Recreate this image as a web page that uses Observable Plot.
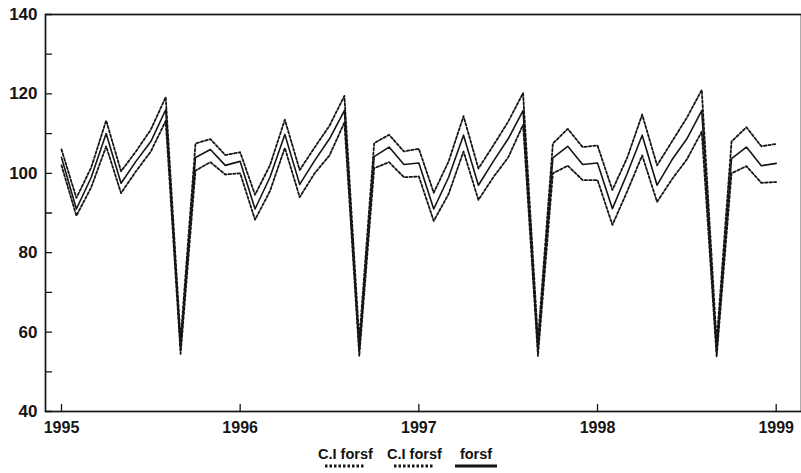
<!DOCTYPE html>
<html>
<head>
<meta charset="utf-8">
<script src="https://cdn.jsdelivr.net/npm/d3@7"></script>
<script src="https://cdn.jsdelivr.net/npm/@observablehq/plot@0.6"></script>
<style>
  html, body { margin: 0; padding: 0; background: #fff; }
  #wrap { position: relative; width: 801px; height: 473px; font-family: "Liberation Sans", Arial, sans-serif; }
  #legend { position: absolute; left: 0; top: 440px; width: 801px; height: 33px; }
  .item { position: absolute; top: 6px; display: flex; flex-direction: column; align-items: center; }
  .item span { font-size: 14.5px; font-weight: bold; color: #111; line-height: 16px; }
  .item svg { display: block; margin-top: 2px; }
</style>
</head>
<body>
<div id="wrap"><div id="chart"></div><div id="legend"></div></div>
<script>
// Monthly values, Jan 1995 .. Jan 1999 (49 months)
const startYear = 1995;
const forsf = [
  104, 91, 99, 110, 97.5, 103, 108, 116, 56, 104, 106, 102,
  103, 91, 99, 109.8, 97.2, 103.2, 108.7, 115.8, 55.5, 104.2, 106.6, 102.2,
  102.6, 91, 99, 109.6, 97, 103, 108.7, 115.8, 55.5, 103.9, 106.8, 102.2,
  102.6, 91.1, 100, 109.6, 97, 103.4, 108.7, 115.8, 55, 103.7, 106.6, 101.9,
  102.5
];
const ciUpper = [
  106, 93.8, 101.5, 113.3, 100.5, 105.5, 111, 119.2, 58, 107.5, 108.6, 104.6,
  105.3, 94.6, 102, 113.5, 100.8, 106.5, 112, 119.5, 58, 107.6, 109.7, 105.5,
  106.2, 95.1, 103, 114.4, 101.2, 107, 113, 120.2, 58, 107.5, 111.2, 106.6,
  107, 95.8, 104, 114.8, 102, 108, 114, 121, 57.5, 108, 111.6, 106.8,
  107.4
];
const ciLower = [
  102, 89.3, 96.5, 106.8, 95, 100.5, 105.5, 113.2, 54.5, 100.7, 102.8, 99.7,
  100, 88.3, 95.5, 106.4, 94, 100, 104.5, 112.8, 54, 101.3, 102.8, 99,
  99.2, 88, 94.8, 105.5, 93.3, 99, 104, 112.2, 54, 100, 101.9, 98.3,
  98.3, 87, 95.5, 104.5, 92.8, 98.5, 103.5, 110.5, 53.8, 100, 101.8, 97.6,
  97.8
];
const yearTicks = [1995, 1996, 1997, 1998, 1999];
const yLabelTicks = [40, 60, 80, 100, 120, 140];
const yAllTicks = [40, 50, 60, 70, 80, 90, 100, 110, 120, 130, 140];
const legendLabels = ["C.I forsf", "C.I forsf", "forsf"];

const data = forsf.map((v, i) => ({
  t: startYear + i / 12,
  f: v,
  u: ciUpper[i],
  l: ciLower[i]
}));

const ink = "#151515";
const tickShape = { draw(context, l) { context.moveTo(0, 0); context.lineTo(0, -l); } };
const chart = Plot.plot({
  width: 801,
  height: 440,
  marginTop: 14,
  marginLeft: 45,
  marginRight: 0,
  marginBottom: 29,
  x: { domain: [1994.9105, 1999.1416] },
  y: { domain: [40, 140] },
  style: { fontFamily: "Liberation Sans, Arial, sans-serif", color: ink, background: "#fff" },
  marks: [
    Plot.axisY({ ticks: yLabelTicks, tickSize: 0, tickPadding: 8, fontSize: 17, fontWeight: "bold", label: null }),
    Plot.axisX({ ticks: yearTicks, tickSize: 0, tickPadding: 10, tickFormat: "d", fontSize: 16, fontWeight: "bold", label: null }),
    // inward ticks
    Plot.vector(yAllTicks, { y: d => d, frameAnchor: "left", rotate: 90, anchor: "start", length: 6, shape: tickShape, stroke: ink, strokeWidth: 1.3 }),
    Plot.vector(yearTicks, { x: d => d, frameAnchor: "bottom", rotate: 0, anchor: "start", length: 7, shape: tickShape, stroke: ink, strokeWidth: 1.3 }),
    Plot.line(data, { x: "t", y: "u", stroke: ink, strokeWidth: 1.8, strokeDasharray: "2.5,2" }),
    Plot.line(data, { x: "t", y: "l", stroke: ink, strokeWidth: 1.8, strokeDasharray: "2.5,2" }),
    Plot.line(data, { x: "t", y: "f", stroke: ink, strokeWidth: 1.6 }),
    Plot.frame({ stroke: ink, strokeWidth: 1.7 })
  ]
});
document.getElementById("chart").appendChild(chart);

// Legend below the chart
const legend = document.getElementById("legend");
const legendItems = [
  { label: legendLabels[0], left: 318, w: 40, dash: "2.5,2" },
  { label: legendLabels[1], left: 387, w: 40, dash: "2.5,2" },
  { label: legendLabels[2], left: 455, w: 42, dash: null }
];
legendItems.forEach(it => {
  const div = document.createElement("div");
  div.className = "item";
  div.style.left = it.left + "px";
  const span = document.createElement("span");
  span.textContent = it.label;
  div.appendChild(span);
  const ns = "http://www.w3.org/2000/svg";
  const s = document.createElementNS(ns, "svg");
  s.setAttribute("width", it.w);
  s.setAttribute("height", 4);
  const ln = document.createElementNS(ns, "line");
  ln.setAttribute("x1", 0); ln.setAttribute("x2", it.w);
  ln.setAttribute("y1", 2); ln.setAttribute("y2", 2);
  ln.setAttribute("stroke", ink);
  ln.setAttribute("stroke-width", 3);
  if (it.dash) ln.setAttribute("stroke-dasharray", it.dash);
  s.appendChild(ln);
  div.appendChild(s);
  legend.appendChild(div);
});
</script>
</body>
</html>
